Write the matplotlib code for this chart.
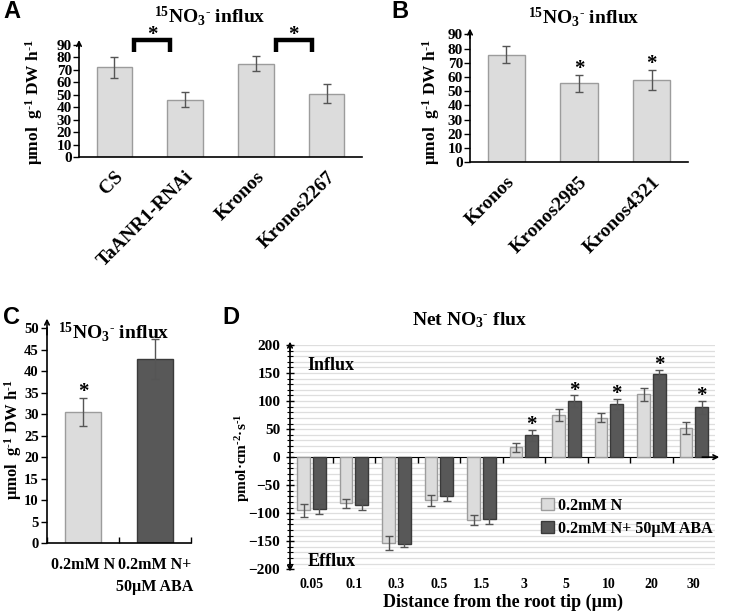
import numpy as np
import matplotlib
matplotlib.use("Agg")
import matplotlib.pyplot as plt

plt.rcParams['font.family'] = ['Liberation Serif', 'DejaVu Serif']
plt.rcParams['font.weight'] = 'bold'
plt.rcParams['mathtext.fontset'] = 'custom'
plt.rcParams['mathtext.rm'] = 'Liberation Serif:bold'
plt.rcParams['mathtext.it'] = 'Liberation Serif:bold'
plt.rcParams['mathtext.bf'] = 'Liberation Serif:bold'
plt.rcParams['mathtext.default'] = 'rm'

# ---------------- data ----------------
A_cats = ['CS', 'TaANR1-RNAi', 'Kronos', 'Kronos2267']
A_vals = [72, 46, 75, 51]
A_err = [8.5, 6, 6, 7.5]
A_pairs = [(0, 1), (2, 3)]

B_cats = ['Kronos', 'Kronos2985', 'Kronos4321']
B_vals = [75.5, 55.5, 58]
B_err = [6, 6, 7]
B_sig = [False, True, True]

C_cats = ['0.2mM N', '0.2mM N+\n50µM ABA']
C_vals = [30.5, 42.8]
C_err = [3.2, 4.7]
C_sig = [True, False]

D_cats = ['0.05', '0.1', '0.3', '0.5', '1.5', '3', '5', '10', '20', '30']
D_light = [-95, -82, -153, -77, -112, 18, 75, 70, 112, 52]
D_light_err = [11, 8, 13, 10, 9, 8, 10, 8, 11, 11]
D_dark = [-93, -85, -155, -70, -110, 39, 100, 95, 148, 89]
D_dark_err = [9, 10, 5, 9, 10, 10, 10, 9, 8, 12]
D_sig = [False, False, False, False, False, True, True, True, True, True]
D_legend = ['0.2mM N', '0.2mM N+ 50µM ABA']

LIGHT = '#dcdcdc'
LIGHT_E = '#9c9c9c'
DARK = '#585858'
DARK_E = '#3a3a3a'
ERR = '#555555'

W, H = 742, 613
fig = plt.figure(figsize=(7.42, 6.13), dpi=100)


def axrect(x0, x1, ytop, ybot):
    return [x0 / W, 1 - ybot / H, (x1 - x0) / W, (ybot - ytop) / H]


def ftext(x, y, s, **kw):
    fig.text(x / W, 1 - y / H, s, **kw)


def style_axis(ax, arrow_top=True):
    ax.spines['top'].set_visible(False)
    ax.spines['right'].set_visible(False)
    ax.spines['left'].set_linewidth(1.2)
    ax.spines['bottom'].set_linewidth(1.2)
    if arrow_top:
        ax.annotate('', xy=(0, 1.045), xytext=(0, 0.97), xycoords='axes fraction',
                    arrowprops=dict(arrowstyle='->', lw=1.2, color='black',
                                    mutation_scale=8, shrinkA=0, shrinkB=0))


title_influx = r'$^{15}$NO$_{3}$$^{\text{-}}$ influx'
ylab_influx = r'μmol  g$^{\text{-}1}$ DW h$^{\text{-}1}$'

# ---------------- Panel A ----------------
axA = fig.add_axes(axrect(79, 362, 45, 157))
xA = np.arange(len(A_cats)) + 0.5
axA.bar(xA, A_vals, width=0.5, color=LIGHT, edgecolor=LIGHT_E, linewidth=1, zorder=2)
axA.errorbar(xA, A_vals, yerr=A_err, fmt='none', ecolor=ERR, elinewidth=1, capsize=3, zorder=3)
axA.set_xlim(0, len(A_cats))
axA.set_ylim(0, 90)
axA.set_yticks(np.arange(0, 91, 10))
axA.set_xticks(xA)
axA.set_xticklabels(A_cats, rotation=45, ha='right', rotation_mode='anchor', fontsize=14)
axA.tick_params(axis='x', length=0, pad=8)
axA.tick_params(axis='y', direction='out', length=4, width=1, labelsize=11, pad=1)
style_axis(axA)
for i, j in A_pairs:
    x0 = xA[i] + 0.28
    x1 = xA[j] - 0.21
    axA.plot([x0, x0, x1, x1], [84, 94, 94, 84], color='black', lw=3.2, clip_on=False,
             solid_joinstyle='miter', solid_capstyle='butt')
    axA.text((x0 + x1) / 2, 98, '*', ha='center', va='center', fontsize=15, clip_on=False)

ftext(210, 16, title_influx, ha='center', va='center', fontsize=14)
ftext(34, 102, ylab_influx, ha='center', va='center', rotation=90, fontsize=12.5)

# ---------------- Panel B ----------------
axB = fig.add_axes(axrect(470, 688, 34.3, 162.3))
xB = np.arange(len(B_cats)) + 0.5
axB.bar(xB, B_vals, width=0.51, color=LIGHT, edgecolor=LIGHT_E, linewidth=1, zorder=2)
axB.errorbar(xB, B_vals, yerr=B_err, fmt='none', ecolor=ERR, elinewidth=1, capsize=3, zorder=3)
for x, v, e, s in zip(xB, B_vals, B_err, B_sig):
    if s:
        axB.text(x, v + e + 4, '*', ha='center', va='center', fontsize=15)
axB.set_xlim(0, len(B_cats))
axB.set_ylim(0, 90)
axB.set_yticks(np.arange(0, 91, 10))
axB.set_xticks(xB)
axB.set_xticklabels(B_cats, rotation=45, ha='right', rotation_mode='anchor', fontsize=14)
axB.tick_params(axis='x', length=0, pad=8)
axB.tick_params(axis='y', direction='out', length=4, width=1, labelsize=11, pad=1)
style_axis(axB)
ftext(584, 17, title_influx, ha='center', va='center', fontsize=14)
ftext(431, 102, ylab_influx, ha='center', va='center', rotation=90, fontsize=12.5)

# ---------------- Panel C ----------------
axC = fig.add_axes(axrect(47, 190.7, 328.3, 543.3))
xC = np.arange(len(C_cats)) + 0.5
axC.bar(xC, C_vals, width=0.5, color=[LIGHT, DARK], edgecolor=[LIGHT_E, DARK_E],
        linewidth=1, zorder=2)
axC.errorbar(xC, C_vals, yerr=C_err, fmt='none', ecolor=ERR, elinewidth=1, capsize=3, zorder=3)
for x, v, e, s in zip(xC, C_vals, C_err, C_sig):
    if s:
        axC.text(x, v + e + 1.6, '*', ha='center', va='center', fontsize=15)
axC.set_xlim(0, len(C_cats))
axC.set_ylim(0, 50)
axC.set_yticks(np.arange(0, 51, 5))
axC.set_xticks(np.arange(0, len(C_cats) + 1))
axC.set_xticklabels([])
axC.set_xticks(xC, minor=True)
axC.set_xticklabels(C_cats, minor=True, fontsize=11.5, linespacing=1.5)
axC.tick_params(axis='x', which='major', direction='in', length=4, width=1)
axC.tick_params(axis='x', which='minor', length=0, pad=10)
axC.tick_params(axis='y', direction='out', length=4, width=1, labelsize=10.5, pad=2)
style_axis(axC)
ftext(58, 332, title_influx, ha='left', va='center', fontsize=14)
ftext(13, 440, ylab_influx, ha='center', va='center', rotation=90, fontsize=12)

# ---------------- Panel D ----------------
axD = fig.add_axes(axrect(290, 715, 345, 569.3))
n = len(D_cats)
idx = np.arange(n)
xl = idx + 0.32
xd = idx + 0.69
axD.set_xlim(0, n)
axD.set_ylim(-200, 200)
for yv in np.arange(-200, 201, 10):
    axD.axhline(yv, color='#dedede', lw=0.9, zorder=0)
axD.bar(xl, D_light, width=0.3, color=LIGHT, edgecolor=LIGHT_E, linewidth=1, zorder=2,
        label=D_legend[0])
axD.bar(xd, D_dark, width=0.3, color=DARK, edgecolor=DARK_E, linewidth=1, zorder=2,
        label=D_legend[1])
axD.errorbar(xl, D_light, yerr=D_light_err, fmt='none', ecolor=ERR, elinewidth=1, capsize=3, zorder=3)
axD.errorbar(xd, D_dark, yerr=D_dark_err, fmt='none', ecolor=ERR, elinewidth=1, capsize=3, zorder=3)
for x, v, e, s in zip(xd, D_dark, D_dark_err, D_sig):
    if s:
        axD.text(x, v + e + 8, '*', ha='center', va='center', fontsize=15)
axD.spines['top'].set_visible(False)
axD.spines['right'].set_visible(False)
axD.spines['bottom'].set_visible(False)
axD.spines['left'].set_linewidth(1.2)
axD.set_yticks(np.arange(-200, 201, 50))
axD.set_yticks(np.arange(-200, 201, 10), minor=True)
axD.tick_params(axis='y', which='major', direction='inout', length=6, width=1, labelsize=11, pad=4)
axD.tick_params(axis='y', which='minor', direction='inout', length=4, width=0.8)
axD.set_xticks(idx + 0.5)
axD.set_xticklabels(D_cats, fontsize=10)
axD.tick_params(axis='x', length=0, pad=6)
# zero line with category boundary ticks
sec = axD.secondary_xaxis(0.5)
sec.spines['bottom'].set_linewidth(1.2)
sec.set_xticks(np.arange(1, n))
sec.set_xticklabels([])
sec.tick_params(axis='x', direction='in', length=4, width=1)
axD.annotate('', xy=(1.01, 0.5), xytext=(0.97, 0.5), xycoords='axes fraction',
             arrowprops=dict(arrowstyle='->', lw=1.2, color='black', mutation_scale=8,
                             shrinkA=0, shrinkB=0))
axD.annotate('', xy=(0, 1.015), xytext=(0, 0.97), xycoords='axes fraction',
             arrowprops=dict(arrowstyle='->', lw=1.2, color='black', mutation_scale=8,
                             shrinkA=0, shrinkB=0))
axD.annotate('', xy=(0, -0.01), xytext=(0, 0.03), xycoords='axes fraction',
             arrowprops=dict(arrowstyle='->', lw=1.2, color='black', mutation_scale=8,
                             shrinkA=0, shrinkB=0))
axD.text(0.41, 163, 'Influx', ha='left', va='center', fontsize=13)
axD.text(0.41, -186, 'Efflux', ha='left', va='center', fontsize=13)
leg = axD.legend(loc='upper left', bbox_to_anchor=(0.59, 0.32), frameon=False,
                 fontsize=11.5, handlelength=0.8, handleheight=0.8, handletextpad=0.25,
                 labelspacing=0.45, borderpad=0, borderaxespad=0)
ftext(470, 320, r'Net NO$_{3}$$^{\text{-}}$ flux', ha='center', va='center', fontsize=14)
ftext(243, 458, r'pmol·cm$^{\text{-}2}$·s$^{\text{-}1}$', ha='center', va='center', rotation=90, fontsize=11)
ftext(503, 602, 'Distance from the root tip (µm)', ha='center', va='center', fontsize=13)

# panel letters
for x, y, s in [(3, 12, 'A'), (391, 12, 'B'), (3, 318, 'C'), (222, 318, 'D')]:
    ftext(x, y, s, ha='left', va='center', fontsize=17, fontweight='bold',
          family='Liberation Sans')

fig.savefig('out.png', dpi=100)
